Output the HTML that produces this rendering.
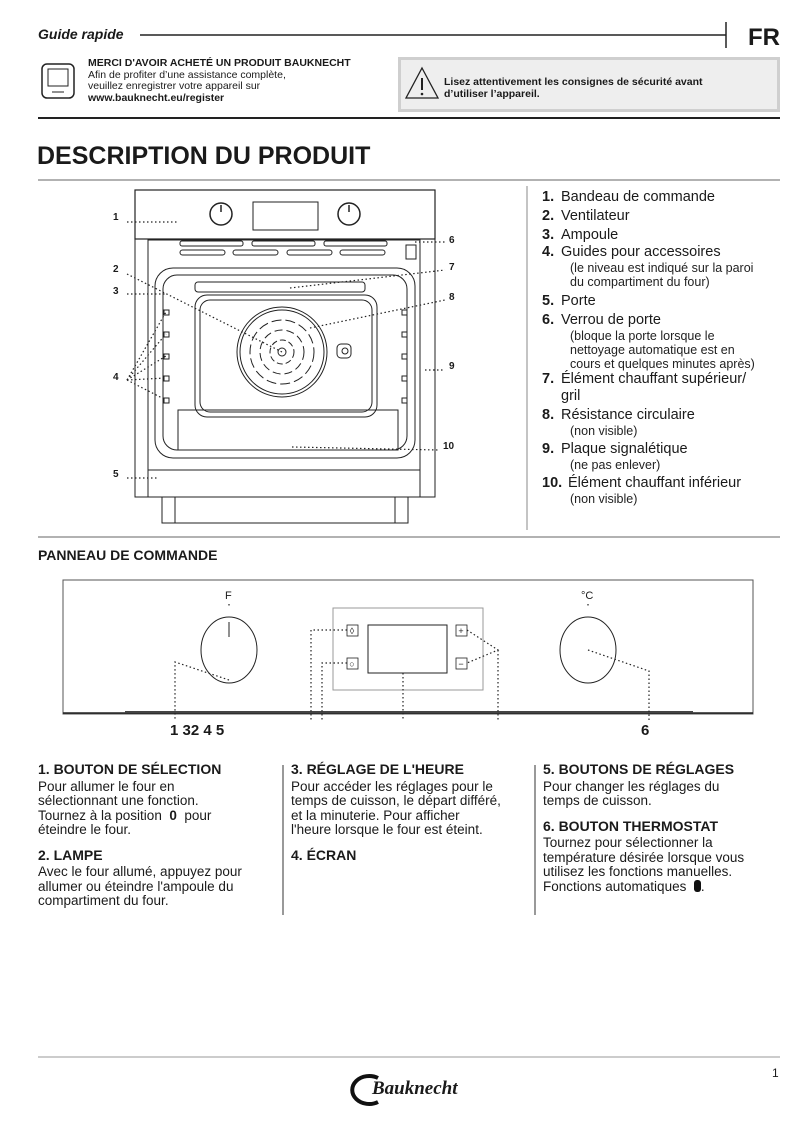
<!DOCTYPE html>
<html><head><meta charset="utf-8"><style>
*{margin:0;padding:0;box-sizing:border-box}
body{width:802px;height:1134px;background:#fff;position:relative;font-family:"Liberation Sans",sans-serif;color:#1a1a1a;overflow:hidden}
.a{position:absolute;white-space:nowrap}
.b{font-weight:bold}
.li{font-size:14.5px;line-height:17px}
.li b{display:inline-block;width:19px}
.sub{font-size:12.5px;line-height:14px;padding-left:28px;color:#222}
.col{position:absolute;top:762px;font-size:13.5px;line-height:14.5px}
.col h4{font-size:14px;margin-bottom:3px}
</style></head><body>
<svg class="a" style="left:0;top:0" width="802" height="1134" viewBox="0 0 802 1134">
<g stroke="#222" fill="none">
<line x1="140" y1="35" x2="726" y2="35" stroke-width="1.5"/>
<line x1="726" y1="22" x2="726" y2="48" stroke-width="1.5"/>
<rect x="42" y="64" width="32" height="34" rx="5" stroke-width="1.5"/>
<rect x="48" y="69" width="20" height="17" stroke-width="1"/>
<line x1="52" y1="92" x2="64" y2="92"/>
<line x1="38" y1="118" x2="780" y2="118" stroke-width="2"/>
<line x1="38" y1="180" x2="780" y2="180" stroke="#666"/>
<line x1="527" y1="186" x2="527" y2="530" stroke="#888"/>
<line x1="38" y1="537" x2="780" y2="537" stroke="#666"/>
<!-- oven -->
<rect x="135" y="190" width="300" height="49" stroke-width="1.2"/>
<circle cx="221" cy="214" r="11" stroke-width="1.5"/><line x1="221" y1="205" x2="221" y2="212" stroke-width="1.5"/>
<circle cx="349" cy="214" r="11" stroke-width="1.5"/><line x1="349" y1="205" x2="349" y2="212" stroke-width="1.5"/>
<rect x="253" y="202" width="65" height="28"/>
<rect x="135" y="239" width="300" height="258"/>
<rect x="148" y="240" width="272" height="230"/>
<rect x="180" y="241" width="63" height="5" rx="2"/><rect x="252" y="241" width="63" height="5" rx="2"/><rect x="324" y="241" width="63" height="5" rx="2"/>
<rect x="180" y="250" width="45" height="5" rx="2.5"/><rect x="233" y="250" width="45" height="5" rx="2.5"/><rect x="287" y="250" width="45" height="5" rx="2.5"/><rect x="340" y="250" width="45" height="5" rx="2.5"/>
<rect x="155" y="268" width="260" height="190" rx="18"/>
<rect x="163" y="275" width="244" height="175" rx="14"/>
<rect x="195" y="295" width="182" height="122" rx="12"/>
<rect x="200" y="300" width="172" height="112" rx="10"/>
<rect x="195" y="282" width="170" height="10" rx="3"/>
<circle cx="282" cy="352" r="45"/><circle cx="282" cy="352" r="42"/>
<circle cx="282" cy="352" r="32" stroke-dasharray="10 4"/>
<circle cx="282" cy="352" r="22" stroke-dasharray="8 4"/>
<circle cx="282" cy="352" r="12" stroke-dasharray="6 3"/>
<circle cx="282" cy="352" r="4"/>
<rect x="337" y="344" width="14" height="14" rx="4"/><circle cx="345" cy="351" r="3"/>
<rect x="178" y="410" width="220" height="40"/>
<rect x="148" y="470" width="272" height="27"/>
<rect x="162" y="497" width="246" height="26"/>
<line x1="175" y1="497" x2="175" y2="523"/><line x1="395" y1="497" x2="395" y2="523"/>
<g stroke-width="1"><rect x="164" y="310" width="5" height="5"/><rect x="164" y="332" width="5" height="5"/><rect x="164" y="354" width="5" height="5"/><rect x="164" y="376" width="5" height="5"/><rect x="164" y="398" width="5" height="5"/>
<rect x="402" y="310" width="5" height="5"/><rect x="402" y="332" width="5" height="5"/><rect x="402" y="354" width="5" height="5"/><rect x="402" y="376" width="5" height="5"/><rect x="402" y="398" width="5" height="5"/></g>
<rect x="406" y="245" width="10" height="14"/>
</g>
<g stroke="#222" stroke-dasharray="1.5 2.5" fill="none" stroke-width="1.2">
<line x1="127" y1="222" x2="178" y2="222"/>
<line x1="127" y1="274" x2="282" y2="352"/>
<line x1="127" y1="294" x2="165" y2="294"/>
<line x1="127" y1="380" x2="166" y2="312"/><line x1="127" y1="380" x2="166" y2="334"/><line x1="127" y1="380" x2="166" y2="356"/><line x1="127" y1="380" x2="166" y2="378"/><line x1="127" y1="380" x2="166" y2="400"/>
<line x1="127" y1="478" x2="158" y2="478"/>
<line x1="415" y1="242" x2="445" y2="242"/>
<line x1="290" y1="288" x2="445" y2="270"/>
<line x1="310" y1="328" x2="445" y2="300"/>
<line x1="425" y1="370" x2="445" y2="370"/>
<line x1="292" y1="447" x2="438" y2="450"/>
</g>
<!-- panel -->
<g stroke="#222" fill="none">
<rect x="63" y="580" width="690" height="134" stroke="#555"/>
<line x1="63" y1="713" x2="753" y2="713" stroke-width="1.5"/>
<line x1="125" y1="712" x2="693" y2="712" stroke-width="2" stroke="#444"/>
<ellipse cx="229" cy="650" rx="28" ry="33"/>
<line x1="229" y1="622" x2="229" y2="637"/>
<ellipse cx="588" cy="650" rx="28" ry="33"/>
<rect x="333" y="608" width="150" height="82" stroke="#999"/>
<rect x="368" y="625" width="79" height="48"/>
<rect x="347" y="625" width="11" height="11" stroke-width="0.8"/>
<rect x="347" y="658" width="11" height="11" stroke-width="0.8"/>
<rect x="456" y="625" width="11" height="11" stroke-width="0.8"/>
<rect x="456" y="658" width="11" height="11" stroke-width="0.8"/>
</g>
<g font-family="Liberation Sans" font-size="9" fill="#222" text-anchor="middle"><text x="352" y="634">◊</text><text x="352" y="667">○</text><text x="461" y="634">+</text><text x="461" y="667">−</text></g>
<g stroke="#222" stroke-dasharray="1.5 2.5" fill="none" stroke-width="1.2">
<polyline points="229,680 175,662 175,720"/>
<polyline points="347,630 311,630 311,720"/>
<polyline points="347,663 322,663 322,720"/>
<line x1="403" y1="673" x2="403" y2="720"/>
<polyline points="467,630 498,650 467,663"/>
<line x1="498" y1="650" x2="498" y2="720"/>
<polyline points="588,650 649,671 649,720"/>
<line x1="229" y1="604" x2="229" y2="606"/><line x1="588" y1="604" x2="588" y2="606"/>
</g>
<g stroke="#333">
<line x1="283" y1="765" x2="283" y2="915"/><line x1="535" y1="765" x2="535" y2="915"/>
<line x1="38" y1="1057" x2="780" y2="1057" stroke="#999"/>
</g>
<path d="M378 1078 A17 14 0 1 0 378 1102" stroke="#111" stroke-width="4" fill="none"/>
</svg>

<div class="a b" style="left:38px;top:26px;font-size:14px;font-style:italic">Guide rapide</div>
<div class="a b" style="left:748px;top:24px;font-size:24px">FR</div>
<div class="a" style="left:88px;top:58px;font-size:10.5px;line-height:11.5px"><b>MERCI D'AVOIR ACHETÉ UN PRODUIT BAUKNECHT</b><br>Afin de profiter d’une assistance complète,<br>veuillez enregistrer votre appareil sur<br><b>www.bauknecht.eu/register</b></div>
<div class="a" style="left:398px;top:57px;width:382px;height:55px;background:#eeeeee;border:3px solid #cfcfcf"></div>
<svg class="a" style="left:404px;top:66px" width="36" height="34"><path d="M18 2 L34 32 L2 32 Z" fill="none" stroke="#222" stroke-width="1.3"/><line x1="18" y1="12" x2="18" y2="24" stroke="#222" stroke-width="2"/><circle cx="18" cy="28" r="1.3" fill="#222"/></svg>
<div class="a b" style="left:444px;top:77px;font-size:10.5px;line-height:11.5px">Lisez attentivement les consignes de sécurité avant<br>d’utiliser l’appareil.</div>
<div class="a b" style="left:37px;top:142px;font-size:25px">DESCRIPTION DU PRODUIT</div>

<div class="a b" style="font-size:10px;left:113px;top:212px">1</div>
<div class="a b" style="font-size:10px;left:113px;top:264px">2</div>
<div class="a b" style="font-size:10px;left:113px;top:286px">3</div>
<div class="a b" style="font-size:10px;left:113px;top:372px">4</div>
<div class="a b" style="font-size:10px;left:113px;top:469px">5</div>
<div class="a b" style="font-size:10px;left:449px;top:235px">6</div>
<div class="a b" style="font-size:10px;left:449px;top:262px">7</div>
<div class="a b" style="font-size:10px;left:449px;top:292px">8</div>
<div class="a b" style="font-size:10px;left:449px;top:361px">9</div>
<div class="a b" style="font-size:10px;left:443px;top:441px">10</div>

<div class="a" style="left:542px;top:189px">
<div class="li"><b>1.</b>Bandeau de commande</div>
<div class="li" style="margin-top:2px"><b>2.</b>Ventilateur</div>
<div class="li" style="margin-top:2px"><b>3.</b>Ampoule</div>
<div class="li"><b>4.</b>Guides pour accessoires</div>
<div class="sub">(le niveau est indiqué sur la paroi<br>du compartiment du four)</div>
<div class="li" style="margin-top:4px"><b>5.</b>Porte</div>
<div class="li" style="margin-top:2px"><b>6.</b>Verrou de porte</div>
<div class="sub">(bloque la porte lorsque le<br>nettoyage automatique est en<br>cours et quelques minutes après)</div>
<div class="li"><b>7.</b>Élément chauffant supérieur/<br><span style="padding-left:19px">gril</span></div>
<div class="li" style="margin-top:2px"><b>8.</b>Résistance circulaire</div>
<div class="sub">(non visible)</div>
<div class="li" style="margin-top:3px"><b>9.</b>Plaque signalétique</div>
<div class="sub">(ne pas enlever)</div>
<div class="li" style="margin-top:3px"><b style="width:26px">10.</b>Élément chauffant inférieur</div>
<div class="sub">(non visible)</div>
</div>

<div class="a b" style="left:38px;top:547px;font-size:14px">PANNEAU DE COMMANDE</div>
<div class="a" style="left:225px;top:590px;font-size:11px">F</div>
<div class="a" style="left:581px;top:590px;font-size:11px">°C</div>
<div class="a b" style="left:170px;top:722px;font-size:15px">1 32 4 5</div>
<div class="a b" style="left:641px;top:722px;font-size:15px">6</div>

<div class="col" style="left:38px"><h4>1. BOUTON DE SÉLECTION</h4>Pour allumer le four en<br>sélectionnant une fonction.<br>Tournez à la position &nbsp;<b>0</b>&nbsp; pour<br>éteindre le four.<h4 style="margin-top:10px">2. LAMPE</h4>Avec le four allumé, appuyez pour<br>allumer ou éteindre l'ampoule du<br>compartiment du four.</div>
<div class="col" style="left:291px"><h4>3. RÉGLAGE DE L'HEURE</h4>Pour accéder les réglages pour le<br>temps de cuisson, le départ différé,<br>et la minuterie. Pour afficher<br>l'heure lorsque le four est éteint.<h4 style="margin-top:10px">4. ÉCRAN</h4></div>
<div class="col" style="left:543px"><h4>5. BOUTONS DE RÉGLAGES</h4>Pour changer les réglages du<br>temps de cuisson.<h4 style="margin-top:10px">6. BOUTON THERMOSTAT</h4>Tournez pour sélectionner la<br>température désirée lorsque vous<br>utilisez les fonctions manuelles.<br>Fonctions automatiques &nbsp;<span style="display:inline-block;width:7px;height:12px;background:#111;border-radius:3px;vertical-align:-1px"></span>.</div>

<div class="a" style="left:772px;top:1066px;font-size:12px">1</div>
<div class="a b" style="left:372px;top:1078px;font-size:19px;font-family:'Liberation Serif',serif;font-style:italic">Bauknecht</div>
</body></html>
